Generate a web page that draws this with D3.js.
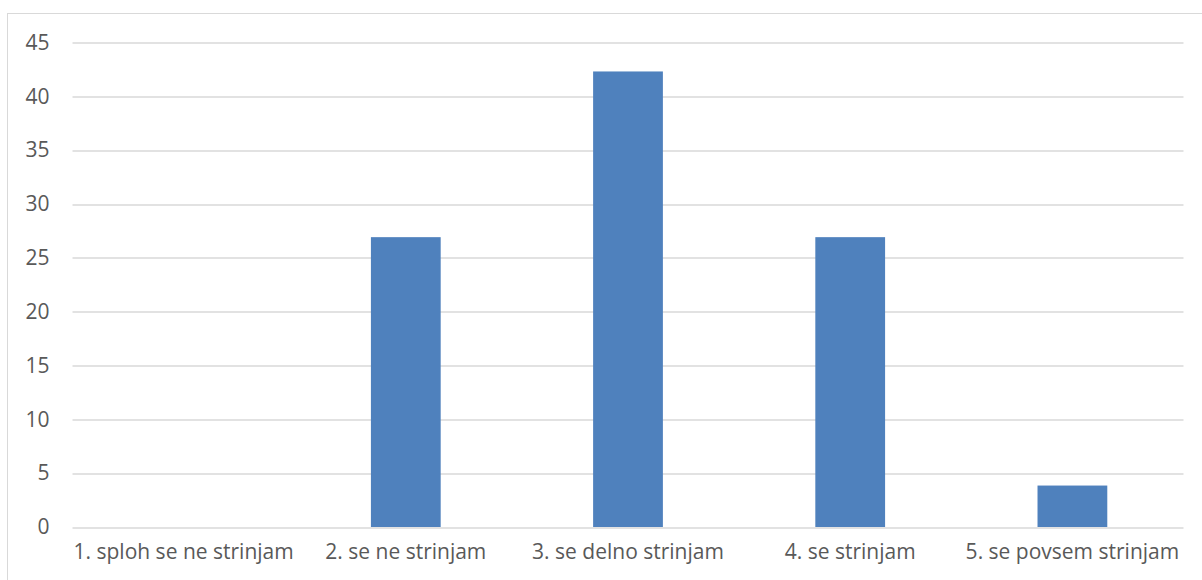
<!DOCTYPE html>
<html>
<head>
<meta charset="utf-8">
<script src="https://cdn.jsdelivr.net/npm/d3@7"></script>
<style>
  html, body { margin: 0; padding: 0; background: #fff; }
  svg { display: block; }
  text { font-family: "Open Sans", Lato, sans-serif; fill: #595959; }
</style>
</head>
<body>
<svg id="chart" width="1202" height="580"></svg>
<script>
// Survey answers (Likert scale) and share of respondents in %
const categories = [
  "1. sploh se ne strinjam",
  "2. se ne strinjam",
  "3. se delno strinjam",
  "4. se strinjam",
  "5. se povsem strinjam"
];
const values = [0, 26.92, 42.31, 26.92, 3.85];
const yTicks = [0, 5, 10, 15, 20, 25, 30, 35, 40, 45];

const svg = d3.select("#chart");
const W = 1202, H = 580;
const margin = { left: 72.5, right: 18.5, top: 42.5, bottom: 53 };
const plotW = W - margin.left - margin.right;
const plotH = H - margin.top - margin.bottom;

// chart frame
svg.append("rect")
  .attr("x", 7.5).attr("y", 13.5)
  .attr("width", W - 7).attr("height", H)
  .attr("fill", "#fff").attr("stroke", "#d9d9d9").attr("stroke-width", 1);

const g = svg.append("g").attr("transform", `translate(${margin.left},${margin.top})`);

const x = d3.scaleBand().domain(categories).range([0, plotW]).paddingInner(0.686).paddingOuter(0.343);
const y = d3.scaleLinear().domain([0, 45]).range([plotH, 0]);

// horizontal gridlines
g.append("g")
  .selectAll("line")
  .data(yTicks)
  .join("line")
  .attr("x1", 0).attr("x2", plotW)
  .attr("y1", d => Math.round(y(d)) + 0.5)
  .attr("y2", d => Math.round(y(d)) + 0.5)
  .attr("stroke", "#d9d9d9").attr("stroke-width", 1.5);

// y axis labels
const yAxis = g.append("g")
  .call(d3.axisLeft(y).tickValues(yTicks).tickSize(0).tickPadding(23));
yAxis.select(".domain").remove();
yAxis.selectAll("text").style("font-size", "21px").attr("fill", "#595959");

// bars
g.append("g")
  .selectAll("rect")
  .data(values)
  .join("rect")
  .attr("x", (d, i) => x(categories[i]))
  .attr("width", x.bandwidth())
  .attr("y", d => y(d))
  .attr("height", d => plotH - y(d))
  .attr("fill", "#4f81bd");

// category labels
const xAxis = g.append("g")
  .attr("transform", `translate(0,${plotH})`)
  .call(d3.axisBottom(x).tickSize(0).tickPadding(17));
xAxis.select(".domain").remove();
xAxis.selectAll("text").style("font-size", "21px").attr("fill", "#595959");
</script>
</body>
</html>
